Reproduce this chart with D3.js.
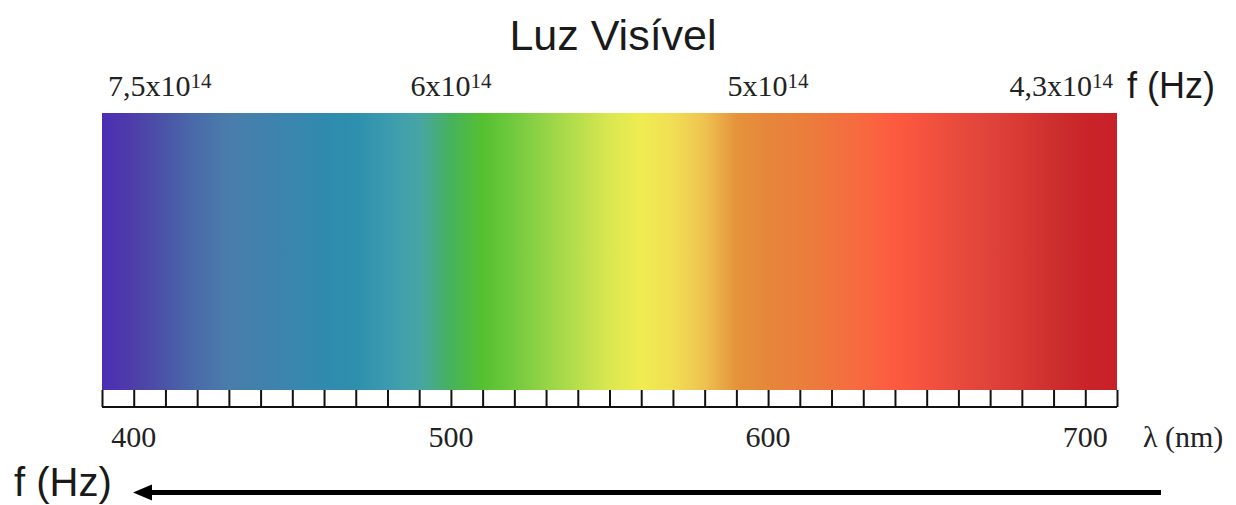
<!DOCTYPE html>
<meta charset="utf-8">

<head>
    <title>Luz Visível</title>
    <script src="https://d3js.org/d3.v7.min.js"></script>
    <style>
        body { margin: 0; background: #fff; }
        .serif { font-family: "Liberation Serif", "Times New Roman", serif; fill: #222; }
        .sans { font-family: "Liberation Sans", Arial, sans-serif; fill: #1a1a1a; }
    </style>

<body>
    <svg width="1236" height="505"></svg>
    <script>

        // wavelength range of the strip (nm) and labelled wavelengths
        var lambdaDomain = [390, 710];
        var lambdaLabels = [400, 500, 600, 700];

        // frequency labels on top (Hz), mantissa text and exponent
        var freqValues = [7.5e14, 6e14, 5e14, 4.3e14];
        var freqMantissa = ["7,5x10", "6x10", "5x10", "4,3x10"];
        var freqExponent = ["14", "14", "14", "14"];

        // colour stops of the spectrum (nm -> colour)
        var stopNm = [390, 400, 410, 420, 430, 440, 450, 460, 470, 480, 490, 500, 510, 520, 530, 540, 550, 560, 570, 580, 590, 600, 610, 620, 630, 640, 650, 660, 670, 680, 690, 700, 710];
        var stopColor = ["#4a2eb2", "#4f3ea9", "#4b55a8", "#4a6ca9", "#4a7dab", "#4181ad", "#3a86ae", "#2f8bae", "#2e8fae", "#3b9bae", "#47a5a6", "#46b25c", "#55c030", "#72ca3e", "#96d447", "#b8de4c", "#dae750", "#f0ec52", "#f1de54", "#eec250", "#e5933c", "#e6863a", "#ea7f3c", "#f0743d", "#f86840", "#fd5a40", "#f4523f", "#e84a3c", "#df433a", "#d83934", "#cd2f2e", "#c9242a", "#c8202a"];

        var svg = d3.select("svg"),
            x = d3.scaleLinear().domain(lambdaDomain).range([102, 1117]),
            stripTop = 113,
            stripBottom = 390,
            band = 17;

        var defs = svg.append("defs");
        var grad = defs.append("linearGradient")
            .attr("id", "spectrum")
            .attr("gradientUnits", "userSpaceOnUse")
            .attr("x1", x(lambdaDomain[0])).attr("x2", x(lambdaDomain[1]))
            .attr("y1", 0).attr("y2", 0);

        grad.selectAll("stop")
            .data(stopNm)
            .enter().append("stop")
            .attr("offset", function (d) { return (x(d) - x.range()[0]) / (x.range()[1] - x.range()[0]); })
            .attr("stop-color", function (d, i) { return stopColor[i]; });

        // title
        svg.append("text")
            .attr("class", "sans")
            .attr("x", 613).attr("y", 50)
            .attr("text-anchor", "middle")
            .style("font-size", "43px")
            .text("Luz Visível");

        // spectrum strip
        svg.append("rect")
            .attr("x", x(lambdaDomain[0]))
            .attr("y", stripTop)
            .attr("width", x(lambdaDomain[1]) - x(lambdaDomain[0]))
            .attr("height", stripBottom - stripTop)
            .attr("fill", "url(#spectrum)");

        // ruler under the strip
        var axis = d3.axisTop(x)
            .tickValues(d3.range(lambdaDomain[0], lambdaDomain[1] + 1, 10))
            .tickSize(band)
            .tickFormat("");

        var ruler = svg.append("g")
            .attr("transform", "translate(0," + (stripBottom + band) + ")")
            .call(axis);
        ruler.select(".domain")
            .attr("d", "M" + x(lambdaDomain[0]) + ",0H" + x(lambdaDomain[1]))
            .attr("stroke", "#111").attr("stroke-width", 2);
        ruler.selectAll(".tick line")
            .attr("stroke", "#111").attr("stroke-width", 2);

        // wavelength labels
        svg.selectAll(".wl")
            .data(lambdaLabels)
            .enter().append("text")
            .attr("class", "serif wl")
            .attr("x", function (d) { return x(d); })
            .attr("y", 447)
            .attr("text-anchor", "middle")
            .style("font-size", "30px")
            .text(function (d) { return d; });

        svg.append("text")
            .attr("class", "serif")
            .attr("x", 1143).attr("y", 447)
            .style("font-size", "30px")
            .text("λ (nm)");

        // frequency labels (wavelength = c / f)
        var n = freqValues.length;
        var fl = svg.selectAll(".fl")
            .data(freqValues)
            .enter().append("text")
            .attr("class", "serif fl")
            .attr("y", 96)
            .style("font-size", "30px")
            .attr("x", function (d, i) {
                if (i === 0) return x(lambdaDomain[0]) + 6;
                if (i === n - 1) return x(lambdaDomain[1]) - 4;
                return x(3e17 / d);
            })
            .attr("text-anchor", function (d, i) {
                return i === 0 ? "start" : (i === n - 1 ? "end" : "middle");
            });
        fl.append("tspan").text(function (d, i) { return freqMantissa[i]; });
        fl.append("tspan")
            .attr("dy", -8)
            .style("font-size", "21px")
            .text(function (d, i) { return freqExponent[i]; });

        svg.append("text")
            .attr("class", "sans")
            .attr("x", 1127).attr("y", 98)
            .style("font-size", "36px")
            .text("f (Hz)");

        // arrow at the bottom
        svg.append("text")
            .attr("class", "sans")
            .attr("x", 14).attr("y", 496)
            .style("font-size", "40px")
            .text("f (Hz)");

        svg.append("line")
            .attr("x1", 1161).attr("x2", 148)
            .attr("y1", 492.5).attr("y2", 492.5)
            .attr("stroke", "#000").attr("stroke-width", 5);

        svg.append("path")
            .attr("d", "M133,492.5L152,484.5L152,500.5Z")
            .attr("fill", "#000");

    </script>
</body>

</html>
